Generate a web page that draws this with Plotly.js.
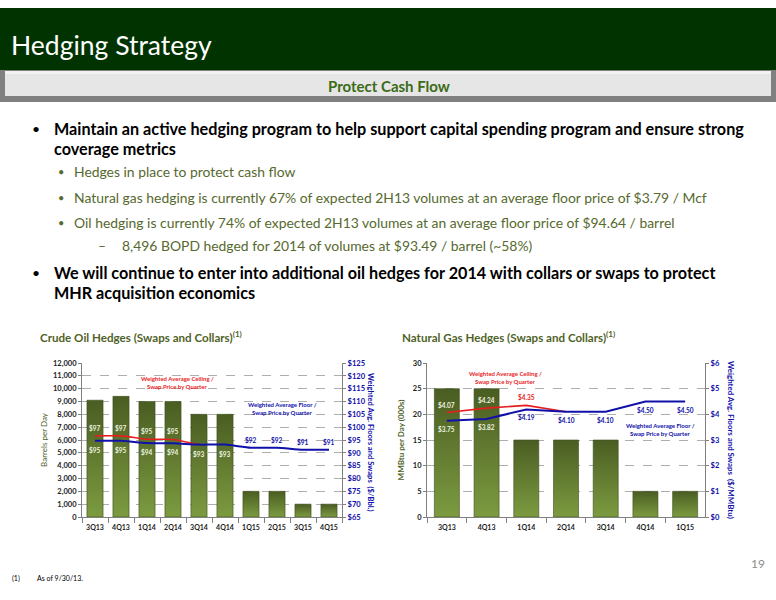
<!DOCTYPE html>
<html>
<head>
<meta charset="utf-8">
<script src="https://cdn.plot.ly/plotly-3.0.1.min.js"></script>
<style>
html,body{margin:0;padding:0;background:#fff;}
#chart{width:776px;height:600px;}
</style>
</head>
<body>
<div id="chart"></div>
<script>
// ---------------- DATA ----------------
const oilQuarters = ['3Q13','4Q13','1Q14','2Q14','3Q14','4Q14','1Q15','2Q15','3Q15','4Q15'];
const oilVolumes = [9100, 9400, 9000, 9000, 8000, 8000, 2000, 2000, 1000, 1000];
const oilCeilingQuarters = ['3Q13','4Q13','1Q14','2Q14','3Q14'];
const oilCeiling = [96.6, 96.6, 95.3, 95.2, 93.1];
const oilCeilingLabels = ['$97','$97','$95','$95',''];
const oilFloor = [94.7, 94.7, 93.8, 93.7, 93.2, 93.2, 92.0, 92.0, 91.2, 91.2];
const oilFloorLabels = ['$95','$95','$94','$94','$93','$93','$92','$92','$91','$91'];

const gasQuarters = ['3Q13','4Q13','1Q14','2Q14','3Q14','4Q14','1Q15'];
const gasVolumes = [25, 25, 15, 15, 15, 5, 5];
const gasCeilingQuarters = ['3Q13','4Q13','1Q14','2Q14'];
const gasCeiling = [4.07, 4.24, 4.35, 4.10];
const gasCeilingLabels = ['$4.07','$4.24','$4.35',''];
const gasFloor = [3.75, 3.82, 4.19, 4.10, 4.10, 4.50, 4.50];
const gasFloorLabels = ['$3.75','$3.82','$4.19','$4.10','$4.10','$4.50','$4.50'];

// ---------------- STYLE ----------------
const W = 776, H = 600;
const px = x => x / W;
const py = y => 1 - y / H;
const FONT = 'Lato, "Open Sans", sans-serif';
const OLIVE = '#4f6228';
const SUBTXT = '#56692e';
const RED = 'rgb(232,30,30)';
const BLUE = 'rgb(16,16,170)';
const LABEL_ON_BAR = '#eef2e0';
const BAR = '#617d33';

const traces = [
  {type:'bar', x: oilQuarters, y: oilVolumes, xaxis:'x', yaxis:'y',
   marker:{color:BAR, line:{color:'#3e4e1c', width:0.6}}, width:0.62, hoverinfo:'skip', showlegend:false},
  {type:'scatter', mode:'lines', x: oilCeilingQuarters, y: oilCeiling, xaxis:'x', yaxis:'y2',
   line:{color:RED, width:1.6, shape:'spline', smoothing:0.7}, hoverinfo:'skip', showlegend:false},
  {type:'scatter', mode:'lines', x: oilQuarters, y: oilFloor, xaxis:'x', yaxis:'y2',
   line:{color:BLUE, width:2, shape:'spline', smoothing:0.7}, hoverinfo:'skip', showlegend:false},

  {type:'bar', x: gasQuarters, y: gasVolumes, xaxis:'x2', yaxis:'y3',
   marker:{color:BAR, line:{color:'#3e4e1c', width:0.6}}, width:0.63, hoverinfo:'skip', showlegend:false},
  {type:'scatter', mode:'lines', x: gasCeilingQuarters, y: gasCeiling, xaxis:'x2', yaxis:'y4',
   line:{color:RED, width:1.6}, hoverinfo:'skip', showlegend:false},
  {type:'scatter', mode:'lines', x: gasQuarters, y: gasFloor, xaxis:'x2', yaxis:'y4',
   line:{color:BLUE, width:2}, hoverinfo:'skip', showlegend:false}
];

const ann = [];
function dataLabels(xs, ys, labels, xref, yref, shiftFn, colorFn) {
  labels.forEach((t, i) => {
    if (!t) return;
    ann.push({xref:xref, yref:yref, x:xs[i], y:ys[i], text:t, showarrow:false,
      xanchor:'center', yanchor:'middle', yshift:shiftFn(i),
      font:{family:FONT, size:6.5, weight:'bold', color:colorFn(i)}});
  });
}
dataLabels(oilCeilingQuarters, oilCeiling, oilCeilingLabels, 'x', 'y2', () => 8, () => LABEL_ON_BAR);
dataLabels(oilQuarters, oilFloor, oilFloorLabels, 'x', 'y2', i => i < 6 ? -9 : 8, i => i < 6 ? LABEL_ON_BAR : BLUE);
dataLabels(gasCeilingQuarters, gasCeiling, gasCeilingLabels, 'x2', 'y4', () => 8, i => i < 2 ? LABEL_ON_BAR : RED);
dataLabels(gasQuarters, gasFloor, gasFloorLabels, 'x2', 'y4', () => -8, i => i < 2 ? LABEL_ON_BAR : BLUE);

function txt(x, y, text, opts) {
  ann.push(Object.assign({xref:'paper', yref:'paper', x:px(x), y:py(y), text:text, showarrow:false,
    xanchor:'left', yanchor:'middle', font:{family:FONT, size:13, color:'#000'}}, opts || {}));
}
// header
txt(9, 45, 'Hedging Strategy', {font:{family:FONT, size:26.5, color:'#ffffff'}});
txt(389, 86, 'Protect Cash Flow', {xanchor:'center', font:{family:FONT, size:15, color:'#3c6b17', weight:'bold'}});
// bullets
const B1 = {family:FONT, size:16.2, color:'#000', weight:'bold'};
const S1 = {family:FONT, size:13.9, color:SUBTXT};
const D1 = {family:FONT, size:14, color:'#000'};
const D2 = {family:FONT, size:11, color:SUBTXT};
txt(30, 128, '•', {font:D1});
txt(52, 128, 'Maintain an active hedging program to help support capital spending program and ensure strong', {font:B1});
txt(52, 148, 'coverage metrics', {font:B1});
txt(56, 172, '•', {font:D2});
txt(72, 172, 'Hedges in place to protect cash flow', {font:S1});
txt(56, 197, '•', {font:D2});
txt(72, 197, 'Natural gas hedging is currently 67% of expected 2H13 volumes at an average floor price of $3.79 / Mcf', {font:S1});
txt(56, 222, '•', {font:D2});
txt(72, 222, 'Oil hedging is currently 74% of expected 2H13 volumes at an average floor price of $94.64 / barrel', {font:S1});
txt(96, 246, '–', {font:S1});
txt(120, 246, '8,496 BOPD hedged for 2014 of volumes at $93.49 / barrel (~58%)', {font:S1});
txt(30, 272, '•', {font:D1});
txt(52, 272, 'We will continue to enter into additional oil hedges for 2014 with collars or swaps to protect', {font:B1});
txt(52, 292, 'MHR acquisition economics', {font:B1});
// chart titles
const CT = {family:FONT, size:11.6, color:OLIVE, weight:'bold'};
txt(38, 336, 'Crude Oil Hedges (Swaps and Collars)<sup>(1)</sup>', {font:CT});
txt(400, 336, 'Natural Gas Hedges (Swaps and Collars)<sup>(1)</sup>', {font:CT});
// right-hand axis titles (read top to bottom)
txt(371, 442, 'Weighted Avg. Floors and Swaps  ($/Bbl.)', {xanchor:'center', textangle:90, font:{family:FONT, size:7.6, color:BLUE, weight:'bold'}});
txt(731, 440, 'Weighted Avg. Floors and Swaps  ($/MMBtu)', {xanchor:'center', textangle:90, font:{family:FONT, size:7.9, color:BLUE, weight:'bold'}});
// in-chart notes
const noteR = {family:FONT, size:6, color:RED, weight:'bold'};
const noteB = {family:FONT, size:6, color:BLUE, weight:'bold'};
txt(177, 378.5, 'Weighted Average Ceiling /', {xanchor:'center', font:noteR});
txt(177, 386, 'Swap Price by Quarter', {xanchor:'center', font:noteR});
txt(282, 404.5, 'Weighted Average Floor /', {xanchor:'center', font:noteB});
txt(282, 412, 'Swap Price by Quarter', {xanchor:'center', font:noteB});
txt(505, 373.5, 'Weighted Average Ceiling /', {xanchor:'center', font:noteR});
txt(505, 381, 'Swap Price by Quarter', {xanchor:'center', font:noteR});
txt(660, 425.5, 'Weighted Average Floor /', {xanchor:'center', font:noteB});
txt(660, 433, 'Swap Price by Quarter', {xanchor:'center', font:noteB});
// footer
txt(10, 578, '(1)', {font:{family:FONT, size:7, color:'#000'}});
txt(35, 578, 'As of 9/30/13.', {font:{family:FONT, size:7, color:'#000'}});
txt(767, 563, '19', {xanchor:'right', font:{family:FONT, size:12, color:'#8c8c8c'}});

const shapes = [
  {type:'rect', xref:'paper', yref:'paper', x0:0, x1:1, y0:py(70), y1:py(8), fillcolor:'#003300', line:{width:0}, layer:'below'},
  {type:'rect', xref:'paper', yref:'paper', x0:0, x1:1, y0:py(102), y1:py(70), fillcolor:'#808080', line:{width:0}, layer:'below'},
  {type:'rect', xref:'paper', yref:'paper', x0:px(5), x1:px(771), y0:py(96), y1:py(71), fillcolor:'#e6e6e6', line:{width:0}, layer:'below'},
  {type:'rect', xref:'paper', yref:'paper', x0:px(5), x1:px(771), y0:py(74), y1:py(71), fillcolor:'#f2f2f2', line:{width:0}, layer:'below'}
];

const yDom = [py(517), py(363)];
const tickFontDark = {family:FONT, size:7.5, color:'#222', weight:'bold'};
const tickFontX = {family:FONT, size:7, color:'#222', weight:'bold'};
const tickFontBlue = {family:FONT, size:7.6, color:BLUE, weight:'bold'};
const common = {showline:true, linecolor:'#808080', linewidth:1, tickcolor:'#808080', zeroline:false, fixedrange:true};

const layout = {
  width: W, height: H,
  margin:{l:0, r:0, t:0, b:0},
  paper_bgcolor:'#ffffff', plot_bgcolor:'rgba(0,0,0,0)',
  font:{family:FONT},
  showlegend:false,
  xaxis:Object.assign({domain:[px(82), px(342)], anchor:'y', type:'category', tickangle:0,
    ticks:'outside', tickson:'boundaries', ticklen:5, ticklabelstandoff:4, tickfont:tickFontX, showgrid:false}, common),
  yaxis:Object.assign({domain:yDom, anchor:'x', range:[0,12000], dtick:1000, tickformat:',d',
    title:{text:'Barrels per Day', font:{family:FONT, size:8, color:OLIVE}, standoff:4},
    ticks:'outside', ticklen:3, tickfont:tickFontDark, gridcolor:'#9a9a9a', griddash:'dash', gridwidth:0.8}, common),
  yaxis2:Object.assign({overlaying:'y', side:'right', anchor:'x', range:[65,125], dtick:5, tickprefix:'$',
    ticks:'outside', ticklen:3, tickfont:tickFontBlue, showgrid:false}, common),
  xaxis2:Object.assign({domain:[px(427), px(705)], anchor:'y3', type:'category', tickangle:0,
    ticks:'outside', tickson:'boundaries', ticklen:5, ticklabelstandoff:4, tickfont:tickFontX, showgrid:false}, common),
  yaxis3:Object.assign({domain:yDom, anchor:'x2', range:[0,30], dtick:5,
    title:{text:'MMBtu per Day (000s)', font:{family:FONT, size:8, color:OLIVE, weight:'bold'}, standoff:6},
    ticks:'outside', ticklen:3, tickfont:tickFontDark, gridcolor:'#9a9a9a', griddash:'dash', gridwidth:0.8}, common),
  yaxis4:Object.assign({overlaying:'y3', side:'right', anchor:'x2', range:[0,6], dtick:1, tickprefix:'$',
    ticks:'outside', ticklen:3, tickfont:tickFontBlue, showgrid:false}, common),
  annotations: ann,
  shapes: shapes
};

Plotly.newPlot('chart', traces, layout, {displayModeBar:false, staticPlot:true}).then(gd => {
  const svg = gd.querySelector('.main-svg');
  const ns = 'http://www.w3.org/2000/svg';
  let defs = svg.querySelector('defs');
  if (!defs) { defs = document.createElementNS(ns, 'defs'); svg.insertBefore(defs, svg.firstChild); }
  const g = document.createElementNS(ns, 'linearGradient');
  g.setAttribute('id', 'barGrad'); g.setAttribute('x1','0'); g.setAttribute('y1','0'); g.setAttribute('x2','0'); g.setAttribute('y2','1');
  [['0%','#4a5d22'],['100%','#7c9b40']].forEach(([o,c]) => {
    const s = document.createElementNS(ns, 'stop'); s.setAttribute('offset', o); s.setAttribute('stop-color', c); g.appendChild(s);
  });
  defs.appendChild(g);
  gd.querySelectorAll('.barlayer .point path').forEach(p => { p.style.fill = 'url(#barGrad)'; });
});
</script>
</body>
</html>
